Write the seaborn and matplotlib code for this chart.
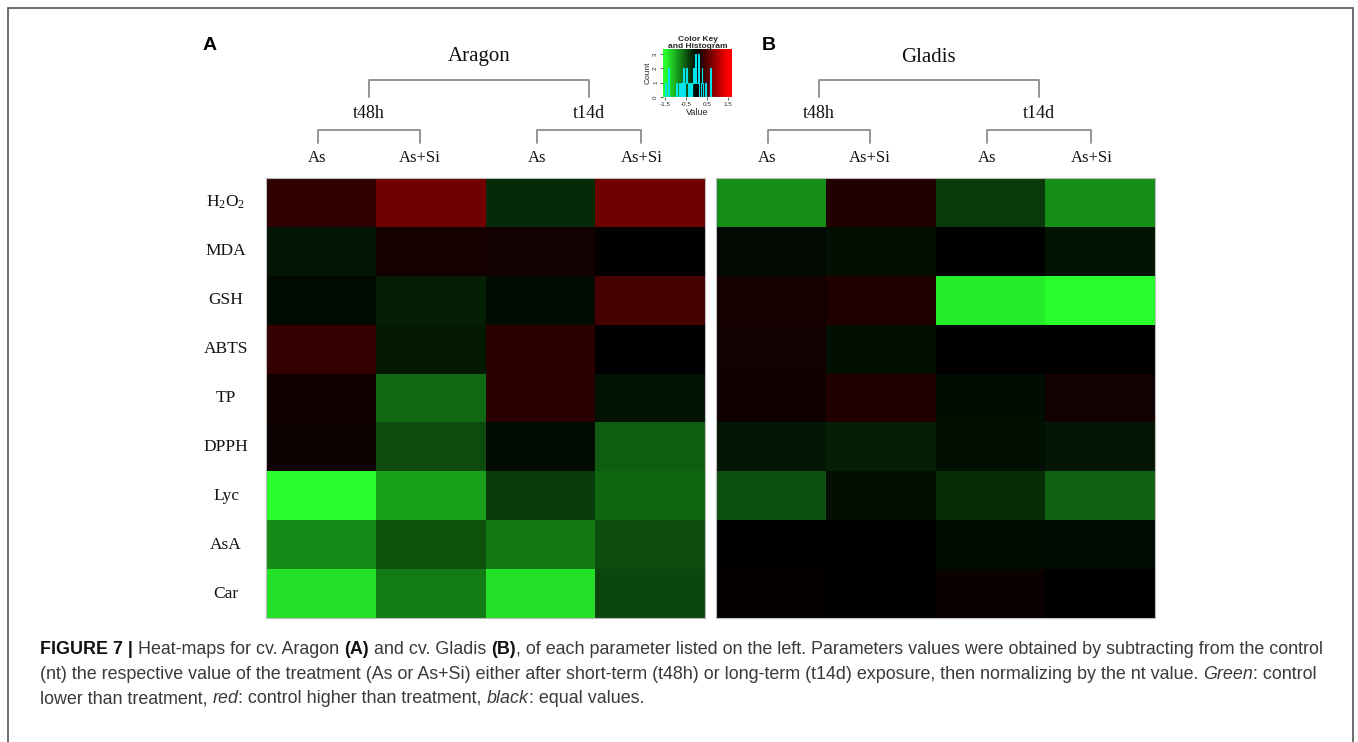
import numpy as np
import pandas as pd
import matplotlib
matplotlib.use("Agg")
import matplotlib.pyplot as plt
import seaborn as sns
from matplotlib.colors import LinearSegmentedColormap
from matplotlib.lines import Line2D
from matplotlib.patches import Rectangle
from matplotlib.transforms import blended_transform_factory

# ---------------- data ----------------
params = ["H$_\\mathrm{2}$O$_\\mathrm{2}$", "MDA", "GSH", "ABTS", "TP", "DPPH", "Lyc", "AsA", "Car"]
treatments = ["As", "As+Si", "As", "As+Si"]
times = ["t48h", "t14d"]
cultivars = ["Aragon", "Gladis"]

aragon_t48h_as = [0.28, -0.12, -0.06, 0.31, 0.09, 0.08, -1.50, -0.81, -1.32]
aragon_t48h_assi = [0.66, 0.12, -0.18, -0.15, -0.61, -0.44, -0.94, -0.49, -0.72]
aragon_t14d_as = [-0.24, 0.11, -0.07, 0.25, 0.24, -0.07, -0.35, -0.71, -1.32]
aragon_t14d_assi = [0.66, 0.02, 0.41, 0.00, -0.11, -0.55, -0.60, -0.45, -0.42]

gladis_t48h_as = [-0.84, -0.05, 0.12, 0.11, 0.09, -0.12, -0.47, -0.01, 0.03]
gladis_t48h_assi = [0.19, -0.09, 0.18, -0.09, 0.19, -0.18, -0.09, 0.01, -0.01]
gladis_t14d_as = [-0.33, -0.01, -1.38, -0.01, -0.08, -0.09, -0.26, -0.08, 0.07]
gladis_t14d_assi = [-0.84, -0.11, -1.50, 0.02, 0.11, -0.14, -0.58, -0.07, 0.00]

key_ticks = [-1.5, -0.5, 0.5, 1.5]
count_ticks = [0, 1, 2, 3]

# ---------------- style ----------------
sns.set_theme(style="white")
plt.rcParams["font.family"] = ["Liberation Serif", "DejaVu Serif"]
plt.rcParams["mathtext.fontset"] = "custom"
plt.rcParams["mathtext.rm"] = "Liberation Serif"
plt.rcParams["mathtext.it"] = "Liberation Serif:italic"
plt.rcParams["mathtext.bf"] = "Liberation Serif:bold"

cmap = LinearSegmentedColormap.from_list(
    "greenred", [(0.157, 1.0, 0.173), (0.0, 0.0, 0.0), (1.0, 0.0, 0.0)], N=256)

W, H = 1358, 742
fig = plt.figure(figsize=(W / 100, H / 100), dpi=100)
fig.patch.set_facecolor("white")


def fx(x):
    return x / W


def fy(y):
    return 1 - y / H


cols = [f"{t} {tr}" for t in times for tr in treatments[:2]]
dfA = pd.DataFrame(dict(zip(cols, [aragon_t48h_as, aragon_t48h_assi,
                                   aragon_t14d_as, aragon_t14d_assi])), index=params)
dfB = pd.DataFrame(dict(zip(cols, [gladis_t48h_as, gladis_t48h_assi,
                                   gladis_t14d_as, gladis_t14d_assi])), index=params)

axA = fig.add_axes([fx(266), fy(618), fx(705) - fx(266), fy(178) - fy(618)])
axB = fig.add_axes([fx(716), fy(618), fx(1155) - fx(716), fy(178) - fy(618)])

sns.heatmap(dfA, ax=axA, cmap=cmap, vmin=-1.5, vmax=1.5, cbar=False,
            xticklabels=False, yticklabels=True, linewidths=0)
sns.heatmap(dfB, ax=axB, cmap=cmap, vmin=-1.5, vmax=1.5, cbar=False,
            xticklabels=False, yticklabels=False, linewidths=0)

axA.tick_params(axis="y", length=0, pad=28.8)
axA.set_yticklabels(params, rotation=0, ha="center", fontsize=12.5, color="#111111")
axA.set_xlabel("")
axA.set_ylabel("")
axB.set_xlabel("")
axB.set_ylabel("")
for ax in (axA, axB):
    for sp in ax.spines.values():
        sp.set_visible(True)
        sp.set_color("#bbbbbb")
        sp.set_linewidth(0.8)

# ---------------- column dendrogram-style headers ----------------
lab_pos = [0.47, 1.4, 2.47, 3.42]
line_kw = dict(color="#8c8c8c", lw=1.3)
for ax, cult in zip((axA, axB), cultivars):
    tr = blended_transform_factory(ax.transData, fig.transFigure)
    for xp, lab in zip(lab_pos, treatments):
        ax.text(xp, fy(158), lab, transform=tr, ha="center", va="center",
                fontsize=12, color="#111111")
    mids = []
    for k, tlab in enumerate(times):
        x0, x1 = lab_pos[2 * k], lab_pos[2 * k + 1]
        fig.add_artist(Line2D([x0, x0, x1, x1], [fy(143), fy(130), fy(130), fy(143)],
                              transform=tr, **line_kw))
        m = (x0 + x1) / 2
        mids.append(m)
        ax.text(m, fy(113), tlab, transform=tr, ha="center", va="center",
                fontsize=13, color="#111111")
    fig.add_artist(Line2D([mids[0], mids[0], mids[1], mids[1]],
                          [fy(97), fy(80), fy(80), fy(97)], transform=tr, **line_kw))
    ax.text((mids[0] + mids[1]) / 2, fy(57), cult, transform=tr, ha="center",
            va="center", fontsize=15, color="#111111")

# panel letters
for x, lab in ((210, "A"), (769, "B")):
    fig.text(fx(x), fy(45), lab, ha="center", va="center", fontsize=14,
             fontweight="bold", family="Liberation Sans", color="black")

# ---------------- colour key ----------------
axK = fig.add_axes([fx(663), fy(97), fx(732) - fx(663), fy(49) - fy(97)])
grad = np.linspace(-1.6, 1.69, 256)[None, :]
axK.imshow(grad, cmap=cmap, vmin=-1.5, vmax=1.5, aspect="auto",
           extent=[-1.6, 1.69, 0, 3.35], origin="lower")
allA = np.concatenate([aragon_t48h_as, aragon_t48h_assi, aragon_t14d_as, aragon_t14d_assi])
axK.hist(allA, bins=np.arange(-1.6, 1.7, 0.04), histtype="step", color="#00e5ee", lw=0.8)
axK.set_xlim(-1.6, 1.69)
axK.set_ylim(0, 3.35)
axK.set_xticks(key_ticks)
axK.set_xticklabels([str(v) for v in key_ticks], family="Liberation Sans", fontsize=4.5)
axK.set_yticks(count_ticks)
axK.set_yticklabels([str(v) for v in count_ticks], family="Liberation Sans", fontsize=4.5,
                    rotation=90, va="center")
axK.tick_params(length=2, width=0.5, pad=1.5, left=True, bottom=True)
axK.set_xlabel("Value", family="Liberation Sans", fontsize=6.5, labelpad=1)
axK.set_ylabel("Count", family="Liberation Sans", fontsize=6, labelpad=1)
axK.set_title("Color Key\nand Histogram", family="Liberation Sans", fontsize=6,
              fontweight="bold", pad=1, linespacing=0.9)
for sp in axK.spines.values():
    sp.set_visible(False)

# ---------------- frame ----------------
fig.add_artist(Rectangle((fx(8), fy(760)), fx(1353) - fx(8), fy(8) - fy(760),
                         transform=fig.transFigure, fill=False, ec="#555555", lw=1.2))

# ---------------- caption ----------------
cap_family = ["Liberation Sans Narrow", "Liberation Sans"]
cap_lines = [
    [("FIGURE 7 | ", "bold", "normal", "#111111"),
     ("Heat-maps for cv. Aragon ", "normal", "normal", "#3a3a3a"),
     ("(A)", "bold", "normal", "#111111"),
     (" and cv. Gladis ", "normal", "normal", "#3a3a3a"),
     ("(B)", "bold", "normal", "#111111"),
     (", of each parameter listed on the left. Parameters values were obtained by subtracting from the control",
      "normal", "normal", "#3a3a3a")],
    [("(nt) the respective value of the treatment (As or As+Si) either after short-term (t48h) or long-term (t14d) exposure, then normalizing by the nt value. ",
      "normal", "normal", "#3a3a3a"),
     ("Green", "normal", "italic", "#3a3a3a"),
     (": control", "normal", "normal", "#3a3a3a")],
    [("lower than treatment, ", "normal", "normal", "#3a3a3a"),
     ("red", "normal", "italic", "#3a3a3a"),
     (": control higher than treatment, ", "normal", "normal", "#3a3a3a"),
     ("black", "normal", "italic", "#3a3a3a"),
     (": equal values.", "normal", "normal", "#3a3a3a")],
]
renderer = fig.canvas.get_renderer()


def twidth(s, size, weight, style):
    t = fig.text(0, 0, s, fontsize=size, fontweight=weight, fontstyle=style, family=cap_family)
    w = t.get_window_extent(renderer).width
    t.remove()
    return w


def seg_width(s, size, weight, style):
    return twidth("x" + s + "x", size, weight, style) - twidth("xx", size, weight, style)


def line_width(segs, size):
    return sum(seg_width(s, size, w, st) for s, w, st, c in segs)


base = 10.0
scale_w = (1328 - 40) / line_width(cap_lines[0], base)
cap_size = base * scale_w

baselines = [654, 679, 703]
for segs, yb in zip(cap_lines, baselines):
    x = 40.0
    for s, w, st, c in segs:
        stripped = s.strip()
        lead = len(s) - len(s.lstrip())
        sw = seg_width(" ", cap_size, w, st)
        x += lead * sw
        fig.text(fx(x), fy(yb), stripped, fontsize=cap_size, fontweight=w, fontstyle=st,
                 family=cap_family, color=c, ha="left", va="baseline")
        x += seg_width(stripped, cap_size, w, st)
        trail = len(s) - len(s.rstrip())
        x += trail * sw

fig.savefig("out.png", dpi=100, facecolor="white")
